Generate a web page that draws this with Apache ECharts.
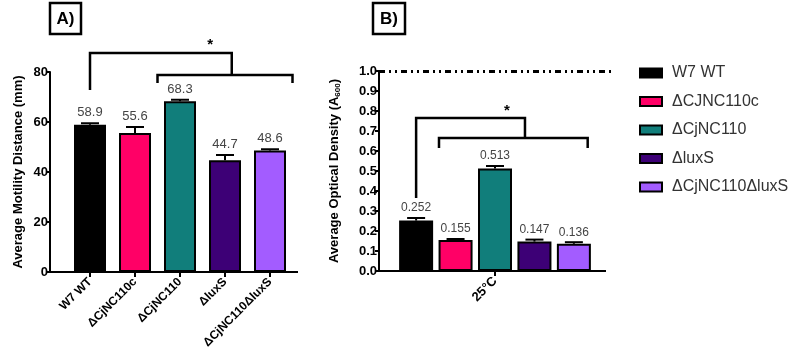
<!DOCTYPE html>
<html>
<head>
<meta charset="utf-8">
<script src="https://cdn.jsdelivr.net/npm/echarts@6/dist/echarts.min.js"></script>
<style>
  html, body { margin: 0; padding: 0; background: #fff; }
  #chart { width: 790px; height: 352px; }
</style>
</head>
<body>
<div id="chart"></div>
<script>
// data
var strains = ['W7 WT', 'ΔCjNC110c', 'ΔCjNC110', 'ΔluxS', 'ΔCjNC110ΔluxS'];
var legendNames = ['W7 WT', 'ΔCJNC110c', 'ΔCjNC110', 'ΔluxS', 'ΔCjNC110ΔluxS'];
var colors = ['#000000', '#ff0066', '#117e7b', '#3d0076', '#a35cff'];
var motility = [58.9, 55.6, 68.3, 44.7, 48.6];
var motilityErr = [0.6, 2.4, 0.6, 2.1, 0.5];
var temps = ['25°C'];
var density = [0.252, 0.155, 0.513, 0.147, 0.136];
var densityErr = [0.013, 0.005, 0.012, 0.010, 0.008];
var maxDensity = 1.0;

// significance brackets: [x, y] with x in category units (A) or bar slots (B)
var bracketA = [
  [[0, 72.8], [0, 87.6], [3.15, 87.6], [3.15, 78.8]],
  [[1.5, 75.6], [1.5, 78.8], [4.5, 78.8], [4.5, 75.6]]
];
var starA = [2.67, 91];
var bracketB = [
  [[-2, 0.365], [-2, 0.765], [0.76, 0.765], [0.76, 0.665]],
  [[-1.42, 0.615], [-1.42, 0.665], [2.35, 0.665], [2.35, 0.615]]
];
var starB = [0.3, 0.8];

var FONT = 'Arial, "Liberation Sans", sans-serif';
var BAR_B = 34, GAP_B = 0.16;
var STEP_B = BAR_B * (1 + GAP_B);

var chart = echarts.init(document.getElementById('chart'));

function xA(api, k) {
  var a = api.coord([0, 0])[0], b = api.coord([1, 0])[0];
  return a + (b - a) * k;
}
function xB(api, k) {
  return api.coord([0, 0])[0] + k * STEP_B;
}

function bracketSeries(idx, lines, star, toX) {
  return {
    type: 'custom', xAxisIndex: idx, yAxisIndex: idx, data: [0], silent: true, z: 5,
    renderItem: function (params, api) {
      var kids = lines.map(function (pts) {
        return {
          type: 'polyline',
          shape: { points: pts.map(function (p) { return [toX(api, p[0]), api.coord([0, p[1]])[1]]; }) },
          style: { stroke: '#000', lineWidth: 2.5, fill: 'none' }
        };
      });
      kids.push({
        type: 'text', x: toX(api, star[0]), y: api.coord([0, star[1]])[1],
        style: { text: '*', font: 'bold 15px ' + FONT, fill: '#000', align: 'center', verticalAlign: 'middle' }
      });
      return { type: 'group', children: kids };
    }
  };
}

function errorSeries(idx, vals, errs, digits, fontSize, getX) {
  return {
    type: 'custom', xAxisIndex: idx, yAxisIndex: idx, silent: true, z: 4,
    data: vals.map(function (v, i) { return [idx === 0 ? i : 0, v, errs[i], i]; }),
    renderItem: function (params, api) {
      var x = getX(api);
      var y0 = api.coord([0, api.value(1)])[1];
      var y1 = api.coord([0, api.value(1) + api.value(2)])[1];
      return {
        type: 'group',
        children: [
          { type: 'line', shape: { x1: x, y1: y0, x2: x, y2: y1 }, style: { stroke: '#000', lineWidth: 2 } },
          { type: 'line', shape: { x1: x - 9, y1: y1, x2: x + 9, y2: y1 }, style: { stroke: '#000', lineWidth: 2 } },
          {
            type: 'text', x: x, y: y1 - 4,
            style: { text: api.value(1).toFixed(digits), font: fontSize + 'px ' + FONT, fill: '#444', align: 'center', verticalAlign: 'bottom' }
          }
        ]
      };
    }
  };
}

var axisBlack = { color: '#000', width: 2 };

var series = [
  {
    type: 'bar', xAxisIndex: 0, yAxisIndex: 0, barWidth: 32,
    data: motility.map(function (v, i) { return { value: v, itemStyle: { color: colors[i] } }; }),
    itemStyle: { borderColor: '#000', borderWidth: 2 }
  },
  errorSeries(0, motility, motilityErr, 1, 13, function (api) { return api.coord([api.value(0), 0])[0]; }),
  bracketSeries(0, bracketA, starA, xA)
];

legendNames.forEach(function (name, i) {
  var s = {
    type: 'bar', name: name, xAxisIndex: 1, yAxisIndex: 1,
    barWidth: BAR_B, barGap: (GAP_B * 100) + '%',
    data: [density[i]],
    itemStyle: { color: colors[i], borderColor: '#000', borderWidth: 2 }
  };
  if (i === 0) {
    s.markLine = {
      silent: true, symbol: 'none', label: { show: false },
      lineStyle: { color: '#000', width: 3, type: [6, 4, 2, 4, 2, 4] },
      data: [{ yAxis: maxDensity }]
    };
  }
  series.push(s);
});
series.push(errorSeries(1, density, densityErr, 3, 12, function (api) { return xB(api, api.value(3) - 2); }));
series.push(bracketSeries(1, bracketB, starB, xB));

var option = {
  animation: false,
  backgroundColor: '#fff',
  textStyle: { fontFamily: FONT },
  grid: [
    { left: 67.5, top: 72, width: 225, height: 200 },
    { left: 379, top: 71, width: 232, height: 200 }
  ],
  legend: {
    data: legendNames, orient: 'vertical', left: 634, top: 60,
    icon: 'rect', itemWidth: 22, itemHeight: 9, itemGap: 12.5,
    textStyle: { fontSize: 16, color: '#333', fontFamily: FONT, padding: [0, 0, 0, 5] }
  },
  xAxis: [
    {
      type: 'category', gridIndex: 0, data: strains,
      axisLine: { show: false },
      axisTick: { show: true, alignWithLabel: true, length: 5, lineStyle: axisBlack },
      axisLabel: { interval: 0, rotate: 45, fontWeight: 'bold', fontSize: 12, color: '#000', margin: 8 }
    },
    {
      type: 'category', gridIndex: 1, data: temps,
      axisLine: { show: false },
      axisTick: { show: true, alignWithLabel: true, length: 5, lineStyle: axisBlack },
      axisLabel: { rotate: 45, fontWeight: 'bold', fontSize: 13, color: '#000', margin: 8 }
    }
  ],
  yAxis: [
    {
      type: 'value', gridIndex: 0, min: 0, max: 80, interval: 20, offset: 17.5,
      name: 'Average Motility Distance (mm)', nameLocation: 'middle', nameGap: 25,
      nameTextStyle: { fontWeight: 'bold', fontSize: 13, color: '#000' },
      axisLine: { show: true, lineStyle: axisBlack },
      axisTick: { show: true, length: 4, lineStyle: axisBlack },
      axisLabel: { fontWeight: 'bold', fontSize: 13, color: '#000', margin: 2 },
      splitLine: { show: false }
    },
    {
      type: 'value', gridIndex: 1, min: 0, max: 1, interval: 0.1,
      name: 'Average Optical Density (A{sub|600})', nameLocation: 'middle', nameGap: 37,
      nameTextStyle: {
        fontWeight: 'bold', fontSize: 13, color: '#000', lineHeight: 16,
        rich: { sub: { fontWeight: 'bold', fontSize: 8, color: '#000', verticalAlign: 'bottom', lineHeight: 16 } }
      },
      axisLine: { show: true, lineStyle: axisBlack },
      axisTick: { show: true, length: 4, lineStyle: axisBlack },
      axisLabel: { fontWeight: 'bold', fontSize: 13, color: '#000', margin: 2, formatter: function (v) { return v.toFixed(1); } },
      splitLine: { show: false }
    }
  ],
  graphic: [
    { type: 'line', shape: { x1: 50, y1: 272, x2: 298, y2: 272 }, style: { stroke: '#000', lineWidth: 2 } },
    { type: 'line', shape: { x1: 379, y1: 271, x2: 606, y2: 271 }, style: { stroke: '#000', lineWidth: 2 } },
    { type: 'rect', shape: { x: 50, y: 3, width: 31, height: 31 }, style: { stroke: '#000', lineWidth: 2.5, fill: '#fff' } },
    { type: 'text', x: 65.5, y: 19, style: { text: 'A)', font: 'bold 17px ' + FONT, fill: '#000', align: 'center', verticalAlign: 'middle' } },
    { type: 'rect', shape: { x: 373, y: 3, width: 32, height: 31 }, style: { stroke: '#000', lineWidth: 2.5, fill: '#fff' } },
    { type: 'text', x: 389, y: 19, style: { text: 'B)', font: 'bold 17px ' + FONT, fill: '#000', align: 'center', verticalAlign: 'middle' } }
  ],
  series: series
};
chart.setOption(option);
</script>
</body>
</html>
